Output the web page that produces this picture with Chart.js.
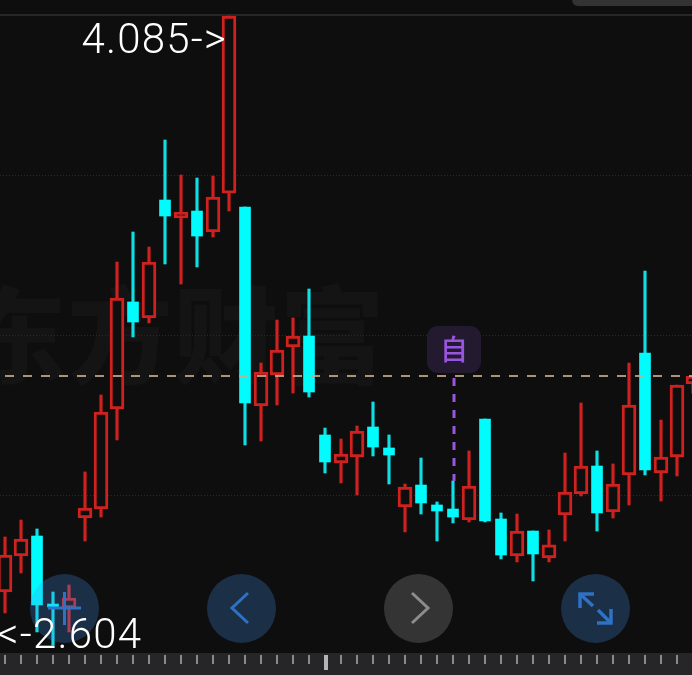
<!DOCTYPE html>
<html>
<head>
<meta charset="utf-8">
<title>K线</title>
<script src="https://cdn.jsdelivr.net/npm/chart.js@4"></script>
<style>
  html, body { margin: 0; height: 100%; background: #0e0e0e; overflow: hidden; }
  #chart { position: absolute; left: -3px; top: 0; }
</style>
</head>
<body>
<canvas id="chart" width="704" height="675"></canvas>
<script>
// candle data, one entry per trading day
const days = ['01','02','03','04','05','06','07','08','09','10','11','12','13','14','15','16','17','18','19','20','21','22',
  '23','24','25','26','27','28','29','30','31','32','33','34','35','36','37','38','39','40','41','42','43','44'];
const opens = [-2.038,-1.655,-1.443,-2.166,-2.208,-1.251,-1.156,-0.093,1.045,0.875,2.129,1.938,2.012,1.789,2.203,2.055,-0.061,0.269,0.566,0.683,-0.369,-0.667,
  -0.603,-0.284,-0.507,-1.134,-0.901,-1.113,-1.156,-1.273,-0.199,-1.262,-1.655,-1.390,-1.677,-1.219,-0.996,-0.699,-1.188,-0.794,0.503,-0.773,-0.603,0.173];
const highs = [-1.453,-1.273,-1.368,-2.038,-1.964,-0.762,0.056,1.470,1.789,1.629,2.767,2.395,2.363,2.384,4.085,2.055,0.396,0.853,0.875,1.183,-0.295,-0.412,
  -0.273,-0.018,-0.369,-0.890,-0.614,-1.081,-0.858,-0.539,-0.199,-1.198,-1.209,-1.390,-1.379,-0.560,-0.029,-0.539,-0.677,0.396,1.374,-0.210,0.162,0.258];
const lows = [-2.261,-1.836,-2.463,-2.604,-2.463,-1.496,-1.241,-0.422,0.673,0.822,1.449,1.236,1.417,1.736,2.012,-0.475,-0.433,-0.050,0.077,0.035,-0.773,-0.879,
  -1.007,-0.592,-0.890,-1.400,-1.209,-1.496,-1.304,-1.294,-1.294,-1.687,-1.719,-1.921,-1.719,-1.496,-1.017,-1.390,-1.251,-1.113,-0.794,-1.071,-0.805,0.077];
const closes = [-1.645,-1.475,-2.176,-2.197,-2.102,-1.145,-0.125,1.087,0.832,1.470,1.959,2.001,1.746,2.161,4.085,-0.029,0.301,0.534,0.683,0.088,-0.656,-0.571,
  -0.327,-0.497,-0.582,-0.922,-1.092,-1.177,-1.241,-0.911,-1.283,-1.645,-1.390,-1.634,-1.538,-0.975,-0.699,-1.198,-0.890,-0.050,-0.741,-0.603,0.162,0.258];

const prevClose = 0.258;
const gridValues = [-2.708, -1.007, 0.694, 2.395, 4.096];
const highLabel = '4.085->';
const lowLabel = '<-2.604';
const watermark = ['东', '方', '财', '富'];
const markText = '自';
const markIndex = 28;

const red = '#d0211f';
const cyan = '#00fcfd';
const cyanWick = '#10dfe3';
const bg = '#0e0e0e';
const blue = '#2f72c4';
const purple = '#9a55e0';

const isUp = i => closes[i] > opens[i];
const upBodies = days.map((d, i) => isUp(i) ? [opens[i], closes[i]] : null);
const downBodies = days.map((d, i) => isUp(i) ? null : [closes[i], opens[i]]);
const wicks = days.map((d, i) => [lows[i], highs[i]]);

function circle(ctx, x, y, r, color) {
  ctx.fillStyle = color;
  ctx.beginPath();
  ctx.arc(x, y, r, 0, Math.PI * 2);
  ctx.fill();
}

function stroke(ctx, color, width, pts) {
  ctx.strokeStyle = color;
  ctx.lineWidth = width;
  ctx.beginPath();
  pts.forEach((p, i) => i ? ctx.lineTo(p[0], p[1]) : ctx.moveTo(p[0], p[1]));
  ctx.stroke();
}

// everything that is not a candle: watermark, ruler, badge, buttons, labels
const decor = {
  id: 'decor',
  beforeDraw(chart) {
    const ctx = chart.ctx;
    ctx.save();
    ctx.translate(3, 0);
    ctx.fillStyle = bg;
    ctx.fillRect(-3, 0, 704, 675);
    ctx.fillStyle = '#141414';
    ctx.font = '900 105px "Noto Sans CJK SC"';
    ctx.textAlign = 'center';
    ctx.textBaseline = 'middle';
    watermark.forEach((c, i) => ctx.fillText(c, 14 + i * 106, 335));
    ctx.fillStyle = '#333333';
    ctx.beginPath();
    ctx.roundRect(572, -8, 130, 14, 6);
    ctx.fill();
    ctx.restore();
  },
  afterDraw(chart) {
    const ctx = chart.ctx;
    const xs = chart.scales.x, ys = chart.scales.y;
    ctx.save();

    // ruler at the bottom, one tick per day
    ctx.fillStyle = '#262628';
    ctx.fillRect(0, 653, 704, 22);
    days.forEach((d, i) => {
      const x = xs.getPixelForValue(i);
      ctx.fillStyle = i === 20 ? '#b4b4b4' : '#8a8a8a';
      if (i === 20) ctx.fillRect(x - 1, 655, 4, 15);
      else ctx.fillRect(x - 1, 655, 2, 9);
    });

    ctx.translate(3, 0);

    // self-selected mark
    ctx.fillStyle = '#241a30';
    ctx.beginPath();
    ctx.roundRect(427, 326, 54, 47, 11);
    ctx.fill();
    ctx.fillStyle = purple;
    ctx.font = '500 28px "Noto Sans CJK SC"';
    ctx.textAlign = 'center';
    ctx.textBaseline = 'middle';
    ctx.fillText(markText, 454, 349);
    ctx.setLineDash([8, 8]);
    stroke(ctx, purple, 3, [[454, 378], [454, ys.getPixelForValue(highs[markIndex])]]);
    ctx.setLineDash([]);

    // buttons
    circle(ctx, 64.5, 608.5, 34.5, 'rgba(66,146,242,.25)');
    circle(ctx, 241.5, 608.5, 34.5, 'rgba(66,146,242,.25)');
    circle(ctx, 418.5, 608.5, 34.5, 'rgba(255,255,255,.16)');
    circle(ctx, 595.5, 608.5, 34.5, 'rgba(66,146,242,.25)');
    stroke(ctx, blue, 3, [[48, 608], [81, 608]]);
    stroke(ctx, blue, 3, [[64.5, 592], [64.5, 625]]);
    stroke(ctx, blue, 3, [[248, 593], [232, 608], [248, 623]]);
    stroke(ctx, '#8c8c8c', 3, [[412, 593], [428, 608], [412, 623]]);
    stroke(ctx, blue, 3.5, [[594, 594], [580, 594], [580, 608]]);
    stroke(ctx, blue, 3.5, [[580, 594], [593, 606]]);
    stroke(ctx, blue, 3.5, [[597, 623], [611, 623], [611, 609]]);
    stroke(ctx, blue, 3.5, [[598, 610], [611, 623]]);

    // high / low labels
    ctx.fillStyle = '#ffffff';
    ctx.font = '300 42px Roboto';
    ctx.letterSpacing = '1.2px';
    ctx.textBaseline = 'alphabetic';
    ctx.textAlign = 'right';
    ctx.fillText(highLabel, 227, 53);
    ctx.textAlign = 'left';
    ctx.fillText(lowLabel, -3, 648);
    ctx.restore();
  }
};

new Chart(document.querySelector('#chart'), {
  data: {
    labels: days,
    datasets: [
      {
        type: 'line',
        data: days.map(() => prevClose),
        borderColor: 'rgba(200,172,135,.85)',
        borderWidth: 2,
        borderDash: [9, 9],
        pointRadius: 0,
        order: 1
      },
      {
        type: 'bar',
        data: upBodies,
        backgroundColor: bg,
        borderColor: red,
        borderWidth: 3,
        borderSkipped: false,
        barThickness: 14,
        grouped: false,
        order: 2
      },
      {
        type: 'bar',
        data: downBodies,
        backgroundColor: cyan,
        borderWidth: 0,
        barThickness: 11,
        grouped: false,
        order: 2
      },
      {
        type: 'bar',
        data: wicks,
        backgroundColor: ctx => isUp(ctx.dataIndex) ? red : cyanWick,
        borderWidth: 0,
        barThickness: 2.5,
        grouped: false,
        order: 3
      }
    ]
  },
  options: {
    responsive: false,
    animation: false,
    layout: { padding: { top: 15, bottom: 20 } },
    plugins: { legend: { display: false }, tooltip: { enabled: false } },
    scales: {
      x: { display: false },
      y: {
        min: gridValues[0],
        max: gridValues[4],
        afterBuildTicks: axis => { axis.ticks = gridValues.map(v => ({ value: v })); },
        ticks: { display: false },
        border: { display: false, dash: ctx => ctx.index === 4 ? [] : [1, 2] },
        grid: {
          drawTicks: false,
          color: ctx => ctx.index === 4 ? '#272727' : '#2a2a2a',
          lineWidth: ctx => ctx.index === 4 ? 2 : 1
        }
      }
    }
  },
  plugins: [decor]
});
</script>
</body>
</html>
